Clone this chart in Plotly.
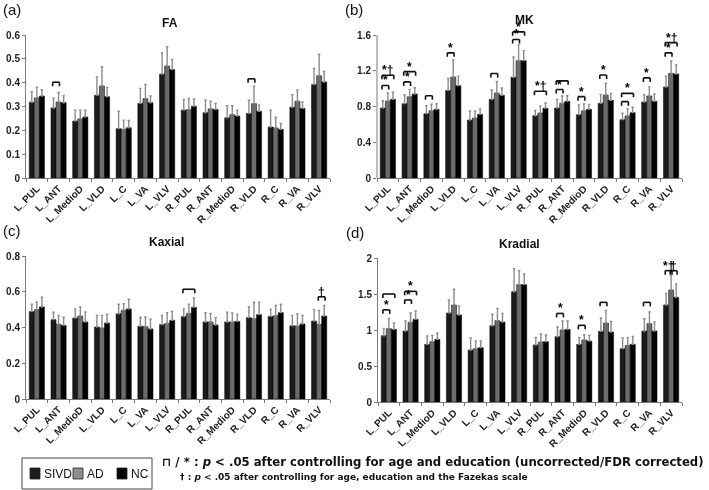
import plotly.graph_objects as go

W, H = 709, 490

categories = ["L_PUL", "L_ANT", "L_MedioD", "L_VLD", "L_C", "L_VA", "L_VLV",
              "R_PUL", "R_ANT", "R_MedioD", "R_VLD", "R_C", "R_VA", "R_VLV"]
groups = ["SIVD", "AD", "NC"]

fa_sivd = [0.318, 0.294, 0.239, 0.347, 0.207, 0.313, 0.436, 0.285, 0.274, 0.253, 0.271, 0.214, 0.297, 0.392]
fa_ad   = [0.336, 0.319, 0.248, 0.386, 0.204, 0.333, 0.470, 0.287, 0.290, 0.266, 0.312, 0.210, 0.322, 0.429]
fa_nc   = [0.344, 0.316, 0.256, 0.341, 0.211, 0.316, 0.455, 0.301, 0.288, 0.260, 0.280, 0.204, 0.292, 0.403]
fa_sivd_err = [0.044, 0.042, 0.045, 0.077, 0.073, 0.063, 0.090, 0.045, 0.053, 0.050, 0.055, 0.070, 0.053, 0.068]
fa_ad_err   = [0.045, 0.040, 0.036, 0.081, 0.039, 0.059, 0.081, 0.047, 0.032, 0.037, 0.073, 0.045, 0.047, 0.090]
fa_nc_err   = [0.027, 0.029, 0.028, 0.039, 0.030, 0.028, 0.042, 0.031, 0.025, 0.025, 0.026, 0.025, 0.027, 0.044]

mk_sivd = [0.783, 0.832, 0.720, 0.980, 0.649, 0.880, 1.126, 0.697, 0.783, 0.709, 0.836, 0.653, 0.850, 1.018]
mk_ad   = [0.862, 0.910, 0.753, 1.130, 0.671, 0.951, 1.313, 0.727, 0.836, 0.753, 0.929, 0.694, 0.918, 1.171]
mk_nc   = [0.880, 0.940, 0.768, 1.033, 0.712, 0.925, 1.313, 0.780, 0.858, 0.768, 0.869, 0.731, 0.858, 1.164]
mk_sivd_err = [0.082, 0.100, 0.090, 0.135, 0.101, 0.105, 0.228, 0.060, 0.097, 0.108, 0.100, 0.071, 0.082, 0.120]
mk_ad_err   = [0.089, 0.082, 0.074, 0.190, 0.079, 0.129, 0.177, 0.079, 0.082, 0.075, 0.131, 0.078, 0.102, 0.138]
mk_nc_err   = [0.080, 0.070, 0.062, 0.107, 0.060, 0.082, 0.112, 0.059, 0.062, 0.056, 0.078, 0.060, 0.082, 0.100]

kax_sivd = [0.489, 0.444, 0.453, 0.403, 0.477, 0.407, 0.416, 0.461, 0.431, 0.431, 0.455, 0.462, 0.410, 0.436]
kax_ad   = [0.500, 0.418, 0.464, 0.397, 0.496, 0.405, 0.423, 0.479, 0.431, 0.431, 0.449, 0.466, 0.408, 0.418]
kax_nc   = [0.515, 0.412, 0.431, 0.425, 0.504, 0.392, 0.440, 0.513, 0.414, 0.434, 0.472, 0.483, 0.420, 0.464]
kax_sivd_err = [0.041, 0.041, 0.050, 0.065, 0.053, 0.050, 0.052, 0.043, 0.052, 0.054, 0.060, 0.041, 0.058, 0.064]
kax_ad_err   = [0.041, 0.050, 0.051, 0.071, 0.037, 0.054, 0.060, 0.051, 0.048, 0.050, 0.092, 0.058, 0.069, 0.078]
kax_nc_err   = [0.054, 0.045, 0.056, 0.049, 0.054, 0.054, 0.050, 0.052, 0.041, 0.040, 0.069, 0.047, 0.048, 0.060]

krad_sivd = [0.921, 0.986, 0.801, 1.236, 0.722, 1.060, 1.532, 0.792, 0.907, 0.801, 0.982, 0.741, 0.986, 1.347]
krad_ad   = [1.019, 1.107, 0.838, 1.347, 0.741, 1.130, 1.630, 0.833, 1.000, 0.861, 1.097, 0.787, 1.088, 1.556]
krad_nc   = [1.009, 1.148, 0.870, 1.208, 0.755, 1.111, 1.630, 0.838, 1.009, 0.847, 0.972, 0.801, 0.986, 1.454]
krad_sivd_err = [0.102, 0.139, 0.116, 0.181, 0.167, 0.158, 0.320, 0.106, 0.135, 0.097, 0.185, 0.148, 0.171, 0.162]
krad_ad_err   = [0.143, 0.129, 0.088, 0.218, 0.106, 0.170, 0.194, 0.111, 0.125, 0.074, 0.176, 0.107, 0.162, 0.203]
krad_nc_err   = [0.088, 0.116, 0.088, 0.125, 0.092, 0.119, 0.148, 0.093, 0.116, 0.079, 0.148, 0.111, 0.125, 0.185]

# significance brackets: (category, from group, to group, height, label)
fa_brackets = [("L_ANT", 0, 1, 0.402, ""), ("R_VLD", 0, 1, 0.416, "")]
mk_brackets = [("L_PUL", 0, 1, 1.035, "*"), ("L_PUL", 0, 2, 1.150, "*†"),
               ("L_ANT", 0, 1, 1.075, "*"), ("L_ANT", 0, 2, 1.190, "*"),
               ("L_MedioD", 0, 1, 0.920, ""), ("L_VLD", 0, 1, 1.400, "*"),
               ("L_VA", 0, 1, 1.170, ""),
               ("L_VLV", 0, 1, 1.550, "*"), ("L_VLV", 0, 2, 1.635, "*"),
               ("R_PUL", 0, 2, 0.970, "*†"),
               ("R_ANT", 0, 1, 0.990, "*"), ("R_ANT", 0, 2, 1.087, ""),
               ("R_MedioD", 0, 1, 0.910, "*"), ("R_VLD", 0, 1, 1.152, "*"),
               ("R_C", 0, 1, 0.854, ""), ("R_C", 0, 2, 0.947, "*"),
               ("R_VA", 0, 1, 1.120, "*"),
               ("R_VLV", 0, 1, 1.400, "*"), ("R_VLV", 0, 2, 1.515, "*†")]
kax_brackets = [("R_PUL", 0, 2, 0.614, ""), ("R_VLV", 1, 2, 0.572, "†")]
krad_brackets = [("L_PUL", 0, 1, 1.280, "*"), ("L_PUL", 0, 2, 1.500, ""),
                 ("L_ANT", 0, 1, 1.417, "*"), ("L_ANT", 0, 2, 1.537, "*"),
                 ("R_ANT", 0, 1, 1.230, "*"), ("R_MedioD", 0, 1, 1.065, "*"),
                 ("R_VLD", 0, 1, 1.384, ""), ("R_VA", 0, 1, 1.384, ""),
                 ("R_VLV", 0, 1, 1.824, "*†"), ("R_VLV", 1, 2, 1.824, "†")]

bar_colors = ["#1b1b1b", "#6c6c6c", "#030303"]
legend_colors = ["#1e1e1e", "#8e8e8e", "#050505"]
FONT = "Liberation Sans, Arial, sans-serif"
WIDEFONT = "DejaVu Sans, Liberation Sans, sans-serif"
BARGAP = 0.3


def px(x):
    return x / W


def py(y):
    return 1 - y / H


panels = [
    dict(key="", title="FA", lab="(a)", vals=(fa_sivd, fa_ad, fa_nc), errs=(fa_sivd_err, fa_ad_err, fa_nc_err),
         br=fa_brackets, l=26, r=330, y0=178, ytop=35, top=0.6, rtop=0.6, dtick=0.1,
         tpos=(170, 23), lpos=(1, 9)),
    dict(key="2", title="MK", lab="(b)", vals=(mk_sivd, mk_ad, mk_nc), errs=(mk_sivd_err, mk_ad_err, mk_nc_err),
         br=mk_brackets, l=377, r=682, y0=178, ytop=35, top=1.6, rtop=1.67, dtick=0.4,
         tpos=(524, 20), lpos=(343, 9)),
    dict(key="3", title="Kaxial", lab="(c)", vals=(kax_sivd, kax_ad, kax_nc), errs=(kax_sivd_err, kax_ad_err, kax_nc_err),
         br=kax_brackets, l=26, r=330, y0=399, ytop=256, top=0.8, rtop=0.8, dtick=0.2,
         tpos=(166, 242), lpos=(1, 230)),
    dict(key="4", title="Kradial", lab="(d)", vals=(krad_sivd, krad_ad, krad_nc), errs=(krad_sivd_err, krad_ad_err, krad_nc_err),
         br=krad_brackets, l=378, r=682, y0=402, ytop=258, top=2.0, rtop=2.0, dtick=0.5,
         tpos=(519, 244), lpos=(344, 232)),
]

fig = go.Figure()
shapes = []
annotations = []
layout = {}

for p in panels:
    k = p["key"]
    xa, ya = "x" + k, "y" + k
    for gi, g in enumerate(groups):
        fig.add_trace(go.Bar(
            x=categories, y=p["vals"][gi], name=g, xaxis=xa, yaxis=ya,
            marker=dict(color=bar_colors[gi], line=dict(color="#000000", width=0.5)),
            error_y=dict(type="data", array=p["errs"][gi], arrayminus=[0] * len(categories),
                         symmetric=False, color="#8c8c8c", thickness=1.4, width=1.2),
            showlegend=False, offsetgroup=g,
        ))
    pxu = (p["y0"] - p["ytop"]) / p["top"]
    ytop_range_px = p["y0"] - p["rtop"] * pxu
    layout["xaxis" + k] = dict(
        domain=[px(p["l"]), px(p["r"])], anchor=ya, type="category", automargin=False,
        showline=True, linecolor="#7a7a7a", linewidth=1,
        ticks="outside", tickson="boundaries", ticklen=3, tickcolor="#7a7a7a",
        tickangle=-45, tickfont=dict(family=FONT, size=10, color="#222222", weight="bold"),
        showgrid=False, fixedrange=True,
    )
    layout["yaxis" + k] = dict(
        domain=[py(p["y0"]), py(ytop_range_px)], anchor=xa, range=[0, p["rtop"]], automargin=False,
        showline=(p["rtop"] == p["top"]), linecolor="#7a7a7a", linewidth=1,
        ticks="outside", ticklen=3, tickcolor="#7a7a7a", dtick=p["dtick"], tick0=0,
        tickfont=dict(family=FONT, size=10, color="#222222", weight="bold"),
        showgrid=False, zeroline=False, fixedrange=True,
    )
    if p["rtop"] != p["top"]:
        shapes.append(dict(type="line", xref=xa + " domain", yref=ya, x0=0, x1=0, y0=0, y1=p["top"],
                           line=dict(color="#7a7a7a", width=1)))
    barw = (1 - BARGAP) / 3
    leg = 4.0 / pxu
    for cat, g0, g1, yb, lab in p["br"]:
        ci = categories.index(cat)
        xs = ci + (g0 - 1) * barw - 0.04
        xe = ci + (g1 - 1) * barw + 0.04
        ln = dict(color="#111111", width=1.6)
        shapes.append(dict(type="line", xref=xa, yref=ya, x0=xs, x1=xe, y0=yb, y1=yb, line=ln))
        shapes.append(dict(type="line", xref=xa, yref=ya, x0=xs, x1=xs, y0=yb, y1=yb - leg, line=ln))
        shapes.append(dict(type="line", xref=xa, yref=ya, x0=xe, x1=xe, y0=yb, y1=yb - leg, line=ln))
        if lab:
            annotations.append(dict(xref=xa, yref=ya, x=(xs + xe) / 2, y=yb, text=lab, showarrow=False,
                                    xanchor="center", yanchor="bottom", yshift=-4,
                                    font=dict(family=FONT, size=12, color="#000000", weight="bold")))
    annotations.append(dict(xref="paper", yref="paper", x=px(p["tpos"][0]), y=py(p["tpos"][1]),
                            text=p["title"], showarrow=False, xanchor="center", yanchor="middle",
                            font=dict(family=FONT, size=12, color="#111111", weight="bold")))
    annotations.append(dict(xref="paper", yref="paper", x=px(p["lpos"][0]), y=py(p["lpos"][1]),
                            text=p["lab"], showarrow=False, xanchor="left", yanchor="middle",
                            font=dict(family=FONT, size=15, color="#111111")))

# legend box
shapes.append(dict(type="rect", xref="paper", yref="paper", x0=px(22), x1=px(152), y0=py(458), y1=py(489),
                   line=dict(color="#444444", width=1), fillcolor="white"))
leg_x = [30, 73, 117]
for gi, g in enumerate(groups):
    shapes.append(dict(type="rect", xref="paper", yref="paper", x0=px(leg_x[gi]), x1=px(leg_x[gi] + 10),
                       y0=py(479), y1=py(468), line=dict(color="#222222", width=0.8),
                       fillcolor=legend_colors[gi]))
    annotations.append(dict(xref="paper", yref="paper", x=px(leg_x[gi] + 12), y=py(474), text=g,
                            showarrow=False, xanchor="left", yanchor="middle",
                            font=dict(family=FONT, size=12, color="#111111")))

# footnotes
annotations.append(dict(xref="paper", yref="paper", x=px(160), y=py(462),
                        text="⊓ / * : <i>p</i> &lt; .05 after controlling for age and education (uncorrected/FDR corrected)",
                        showarrow=False, xanchor="left", yanchor="middle",
                        font=dict(family=WIDEFONT, size=11.7, color="#111111", weight="bold")))
annotations.append(dict(xref="paper", yref="paper", x=px(178), y=py(477),
                        text="† : <i>p</i> &lt; .05 after controlling for age, education and the Fazekas scale",
                        showarrow=False, xanchor="left", yanchor="middle",
                        font=dict(family=WIDEFONT, size=9, color="#111111", weight="bold")))

fig.update_layout(
    width=W, height=H, margin=dict(l=0, r=0, t=0, b=0, autoexpand=False),
    paper_bgcolor="white", plot_bgcolor="white",
    barmode="group", bargap=BARGAP, bargroupgap=0,
    showlegend=False, shapes=shapes, annotations=annotations,
    font=dict(family=FONT, color="#111111"),
    **layout,
)

fig.write_html(
    "out.html", config={"displayModeBar": False},
    post_script=("document.body.style.margin='0';document.body.style.overflow='hidden';"
                 "document.getElementById('{plot_id}').style.filter='grayscale(100%)';"),
)
